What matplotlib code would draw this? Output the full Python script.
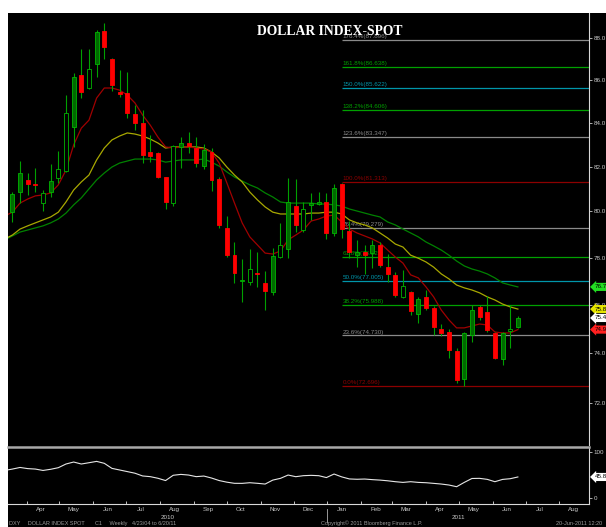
import matplotlib
matplotlib.use("Agg")
import matplotlib.pyplot as plt
import matplotlib.dates as mdates
from matplotlib.patches import Rectangle
from matplotlib.ticker import FixedLocator, FixedFormatter, NullLocator
import numpy as np
import pandas as pd

# weekly bars, first bar dated Friday 2010-03-19
FIRST_WEEK = "2010-03-19"
X_START, X_END = "2010-03-15", "2011-08-28"

opens = [79.97, 80.86, 81.40, 81.20, 80.37, 80.86, 81.49, 81.80, 83.80, 86.23,
         85.62, 86.76, 88.34, 87.00, 85.42, 85.38, 84.40, 83.98, 82.66, 82.62,
         81.53, 80.37, 82.89, 83.07, 82.84, 82.02, 82.66, 81.44, 79.28, 78.10,
         77.02, 76.96, 77.34, 76.92, 76.54, 78.02, 78.37, 80.24, 79.19, 80.28,
         80.33, 80.42, 79.06, 81.22, 79.15, 78.10, 78.23, 78.19, 78.54, 77.59,
         77.26, 76.33, 76.54, 75.62, 76.33, 75.86, 75.00, 74.87, 74.09, 72.96,
         74.75, 75.91, 75.70, 74.83, 73.77, 74.91, 75.08]
highs = [80.86, 82.25, 81.71, 81.93, 80.95, 82.11, 82.71, 85.29, 86.33, 87.47,
         87.47, 88.38, 88.72, 87.05, 86.47, 86.36, 84.82, 84.59, 83.43, 82.66,
         81.55, 82.98, 83.34, 83.57, 83.34, 83.02, 82.84, 81.53, 79.80, 78.67,
         77.93, 78.37, 78.23, 77.42, 78.41, 79.50, 81.49, 81.44, 80.42, 80.82,
         80.86, 80.82, 81.22, 81.25, 79.58, 78.76, 78.54, 78.76, 78.67, 78.15,
         77.38, 77.47, 76.56, 76.33, 76.62, 75.95, 75.20, 75.00, 74.21, 74.87,
         75.99, 75.99, 76.37, 74.87, 74.87, 75.99, 75.55]
lows = [79.54, 80.37, 80.73, 80.86, 80.02, 80.64, 81.27, 81.76, 82.89, 85.15,
        85.55, 86.13, 87.00, 85.48, 85.20, 84.21, 83.66, 82.16, 82.20, 81.49,
        80.11, 80.24, 81.93, 82.62, 81.98, 81.89, 80.91, 79.28, 78.02, 76.92,
        76.11, 76.83, 76.75, 75.78, 76.41, 77.97, 77.97, 79.10, 79.10, 79.63,
        80.28, 78.80, 78.93, 78.84, 77.97, 77.59, 77.30, 77.55, 77.59, 76.96,
        76.33, 76.28, 75.58, 75.25, 75.78, 74.75, 74.71, 73.80, 72.80, 72.70,
        74.46, 75.37, 74.87, 73.77, 73.53, 74.21, 75.04]
closes = [80.78, 81.71, 81.22, 81.16, 80.82, 81.35, 81.89, 84.45, 86.13, 85.43,
          86.52, 88.29, 87.57, 85.76, 85.36, 84.45, 83.98, 82.52, 82.48, 81.53,
          80.42, 82.93, 83.07, 82.93, 82.16, 82.75, 81.40, 79.41, 78.10, 77.34,
          77.06, 77.51, 77.30, 76.58, 78.06, 78.54, 80.42, 79.41, 80.11, 80.37,
          80.42, 79.06, 81.04, 79.23, 78.23, 78.23, 78.10, 78.54, 77.68, 77.30,
          76.41, 76.79, 75.74, 76.24, 75.86, 75.08, 74.83, 74.13, 72.92, 74.83,
          75.78, 75.49, 74.96, 73.81, 74.83, 75.00, 75.45]
hollow_bars = [4, 6, 7, 10, 21, 31, 35, 38, 51, 65]

# moving averages, first value is one week before the first bar
ma_fast = [79.80, 79.97, 80.37, 80.55, 80.69, 80.73, 80.82, 81.18, 81.84, 82.98,
           83.75, 84.12, 85.15, 85.62, 85.62, 85.52, 85.29, 84.92, 84.36, 83.89,
           83.34, 82.89, 82.84, 82.89, 82.89, 82.84, 82.80, 82.66, 82.16, 81.27,
           80.37, 79.50, 78.89, 78.54, 78.19, 78.15, 78.28, 78.76, 78.97, 79.19,
           79.58, 79.67, 79.80, 79.84, 79.54, 79.23, 79.06, 78.93, 78.80, 78.63,
           78.32, 78.02, 77.76, 77.26, 77.13, 76.75, 76.33, 75.78, 75.37, 75.04,
           75.04, 75.12, 75.20, 75.16, 74.87, 74.83, 74.83, 74.97]
ma_mid = [78.80, 78.97, 79.23, 79.37, 79.50, 79.63, 79.76, 79.97, 80.42, 80.95,
          81.31, 81.62, 82.30, 82.84, 83.21, 83.39, 83.53, 83.48, 83.39, 83.25,
          83.07, 82.84, 82.89, 82.89, 82.89, 82.89, 82.84, 82.66, 82.39, 81.98,
          81.62, 81.31, 80.86, 80.51, 80.20, 79.97, 79.89, 79.89, 79.89, 79.89,
          79.93, 79.93, 79.97, 79.97, 79.89, 79.63, 79.50, 79.41, 79.28, 79.06,
          78.84, 78.58, 78.45, 78.10, 77.97, 77.81, 77.59, 77.30, 77.09, 76.83,
          76.71, 76.62, 76.50, 76.33, 76.20, 76.03, 75.91, 75.82]
ma_slow = [78.76, 78.93, 79.10, 79.19, 79.28, 79.37, 79.50, 79.67, 79.93, 80.29,
           80.60, 81.00, 81.40, 81.71, 81.98, 82.16, 82.25, 82.34, 82.34, 82.34,
           82.30, 82.20, 82.25, 82.30, 82.30, 82.30, 82.34, 82.20, 82.02, 81.76,
           81.53, 81.35, 81.18, 81.04, 80.82, 80.64, 80.42, 80.37, 80.37, 80.37,
           80.37, 80.33, 80.33, 80.29, 80.24, 80.11, 80.02, 79.93, 79.84, 79.76,
           79.54, 79.41, 79.23, 79.06, 78.89, 78.67, 78.50, 78.32, 78.10, 77.85,
           77.64, 77.51, 77.42, 77.30, 77.13, 76.92, 76.83, 76.75]
oscillator = [60, 63, 66.5, 64, 63, 60, 62.5, 66, 74, 78.3,
              74, 76.8, 79.7, 75.5, 64.5, 61, 57.5, 54, 48, 46.5,
              43, 38, 49.5, 51.4, 50, 46.5, 47.8, 43.5, 38, 34.5,
              32, 31.9, 33.3, 32, 30.4, 39, 42.8, 50, 46.4, 48.6,
              49.3, 48.6, 44.5, 52.2, 46, 41.5, 40.8, 41.3, 40, 39,
              37.5, 35.5, 34, 35.5, 34, 33.3, 31.9, 30.4, 28.3, 24.6,
              34, 42.5, 42.8, 40.6, 35.5, 40.5, 42, 45.8]

FIB_START = "2011-01-14"
fib_pct = ["176.4%", "161.8%", "150.0%", "138.2%", "123.6%", "100.0%",
           "76.4%", "61.8%", "50.0%", "38.2%", "23.6%", "0.0%"]
fib_level = [87.896, 86.638, 85.622, 84.606, 83.347, 81.313,
             79.279, 78.021, 77.005, 75.988, 74.730, 72.696]

price_ticks = [72, 74, 76, 78, 80, 82, 84, 86, 88]
month_names = ["Apr", "May", "Jun", "Jul", "Aug", "Sep", "Oct", "Nov", "Dec",
               "Jan", "Feb", "Mar", "Apr", "May", "Jun", "Jul", "Aug"]

GRAY = "#8a8a8a"
GREEN = "#00a000"
CYAN = "#0096aa"
DRED = "#8c0000"
fib_color = [GRAY, GREEN, CYAN, GREEN, GRAY, DRED, GRAY, GREEN, CYAN, GREEN, GRAY, DRED]

W, H = 606, 527


def fx(x):
    return x / W


def fy(y):
    return 1 - y / H


fig = plt.figure(figsize=(W / 100, H / 100), dpi=100, facecolor="white")
fig.add_artist(Rectangle((fx(8), 0), 1 - fx(8), fy(12.7), transform=fig.transFigure,
                         facecolor="black", edgecolor="none", zorder=-1))

ax = fig.add_axes([fx(8), fy(445), fx(589) - fx(8), fy(12.7) - fy(445)], facecolor="black")
ax2 = fig.add_axes([fx(8), fy(504), fx(589) - fx(8), fy(447) - fy(504)], facecolor="black")

bar_x = mdates.date2num(pd.date_range(FIRST_WEEK, periods=len(opens), freq="7D"))
ma_x = mdates.date2num(pd.date_range(pd.Timestamp(FIRST_WEEK) - pd.Timedelta(days=7),
                                     periods=len(ma_fast), freq="7D"))
x0, x1 = mdates.date2num(pd.Timestamp(X_START)), mdates.date2num(pd.Timestamp(X_END))

# ---- main price panel
ax.set_yscale("log")
o, h, l, c = (np.array(v, dtype=float) for v in (opens, highs, lows, closes))
up = c >= o
is_hollow = np.isin(np.arange(len(o)), hollow_bars)
face = np.where(up, np.where(is_hollow, "black", "#006a00"), "#ff0000")
edge = np.where(up, "#00b400", "#ff0000")
ax.vlines(bar_x, l, h, colors="#00a000", lw=0.8, zorder=3)
ax.bar(bar_x, np.maximum(np.abs(c - o), 0.04), bottom=np.minimum(o, c), width=3.6,
       color=face, edgecolor=edge, linewidth=0.6, zorder=4)

ax.plot(ma_x, ma_slow, color="#008200", lw=0.9, zorder=2)
ax.plot(ma_x, ma_mid, color="#a8a800", lw=0.9, zorder=2)
ax.plot(ma_x, ma_fast, color="#a00000", lw=0.9, zorder=2)

fib_x = mdates.date2num(pd.Timestamp(FIB_START))
for pct, lev, col in zip(fib_pct, fib_level, fib_color):
    ax.hlines(lev, fib_x, x1, color=col, lw=0.9, zorder=1)
    ax.annotate(f"{pct}({lev:.3f})", xy=(fib_x, lev), xytext=(0.5, 0.6),
                textcoords="offset points", fontsize=4.5, color=col,
                family="Liberation Sans", ha="left", va="bottom", zorder=1)

ax.text(0.554, 0.957, "DOLLAR INDEX-SPOT", transform=ax.transAxes, ha="center",
        va="center", color="white", fontsize=9.8, fontweight="bold",
        family="Liberation Serif", zorder=10)

ax.set_xlim(x0, x1)
ax.set_ylim(70.36, 89.24)
ax.set_xticks([])
ax.yaxis.tick_right()
ax.yaxis.set_major_locator(FixedLocator(price_ticks))
ax.yaxis.set_major_formatter(FixedFormatter([f"{t:.1f}" for t in price_ticks]))
ax.yaxis.set_minor_locator(NullLocator())
ax.tick_params(axis="y", which="major", length=2.5, width=0.6, pad=1,
               color="#c8c8c8", labelcolor="#c8c8c8", labelsize=4.5)
for lab in ax.get_yticklabels():
    lab.set_family("Liberation Sans")
for side in ("top", "left", "bottom"):
    ax.spines[side].set_visible(False)
ax.spines["right"].set_color("#d8d8d8")
ax.spines["right"].set_linewidth(0.8)

last_vals = [ma_slow[-1], ma_mid[-1], closes[-1], ma_fast[-1]]
last_cols = ["#22dd22", "#e6e600", "white", "#ff2020"]
for val, col in zip(last_vals, last_cols):
    ax.annotate(f"{val:.2f}", xy=(1, val), xycoords=("axes fraction", "data"),
                xytext=(4, 0), textcoords="offset points", fontsize=4.5,
                family="Liberation Sans", color="black", ha="left", va="center",
                bbox=dict(boxstyle="larrow,pad=0.25", fc=col, ec="none"),
                annotation_clip=False, zorder=10)

# ---- lower oscillator panel
ax2.plot(ma_x, oscillator, color="#e6e6e6", lw=0.8)
ax2.set_xlim(x0, x1)
ax2.set_ylim(-13, 111)
ax2.yaxis.tick_right()
ax2.set_yticks([0, 100])
ax2.set_yticklabels(["0", "100"])
ax2.tick_params(axis="y", length=2.5, width=0.6, pad=1, color="#c8c8c8",
                labelcolor="#c8c8c8", labelsize=4.5)
ax2.annotate(f"{oscillator[-1]:.1f}", xy=(1, oscillator[-1]),
             xycoords=("axes fraction", "data"), xytext=(4, 0),
             textcoords="offset points", fontsize=4.5, family="Liberation Sans",
             color="black", ha="left", va="center",
             bbox=dict(boxstyle="larrow,pad=0.25", fc="white", ec="none"),
             annotation_clip=False)

month_start = pd.date_range("2010-04-01", "2011-08-01", freq="MS")
ax2.set_xticks(mdates.date2num(month_start + pd.Timedelta(days=13)))
ax2.set_xticklabels(month_names)
ax2.set_xticks(mdates.date2num(month_start), minor=True)
ax2.tick_params(axis="x", which="major", length=0, pad=2.5, labelsize=4.5,
                labelcolor="#c8c8c8")
ax2.tick_params(axis="x", which="minor", direction="in", length=2.5, width=0.6,
                color="#e0e0e0")
for lab in ax2.get_xticklabels() + ax2.get_yticklabels():
    lab.set_family("Liberation Sans")
ax2.spines["left"].set_visible(False)
ax2.spines["top"].set_color("#a8a8a8")
ax2.spines["top"].set_linewidth(1.8)
for side in ("right", "bottom"):
    ax2.spines[side].set_color("#d8d8d8")
    ax2.spines[side].set_linewidth(0.8)

# year labels and divider
jan = mdates.date2num(pd.Timestamp("2011-01-01"))
ax2.plot([jan, jan], [-0.08, -0.32], transform=ax2.get_xaxis_transform(),
         color="#b0b0b0", lw=0.6, clip_on=False)
for year, a, b in (("2010", x0, jan), ("2011", jan, x1)):
    ax2.text((a + b) / 2, -0.23, year, transform=ax2.get_xaxis_transform(),
             ha="center", va="center", fontsize=4.5, color="#c8c8c8",
             family="Liberation Sans")

# footer
foot = dict(fontsize=4, color="#9a9a9a", family="Liberation Sans", va="center")
fig.text(fx(9), fy(523.5), "DXY     DOLLAR INDEX SPOT       C1     Weekly   4/23/04 to 6/20/11", **foot)
fig.text(fx(372), fy(523.5), "Copyright\u00a9 2011 Bloomberg Finance L.P.", ha="center", **foot)
fig.text(fx(556), fy(523.5), "20-Jun-2011 12:20", **foot)

fig.savefig("out.png", dpi=100, facecolor="white")
